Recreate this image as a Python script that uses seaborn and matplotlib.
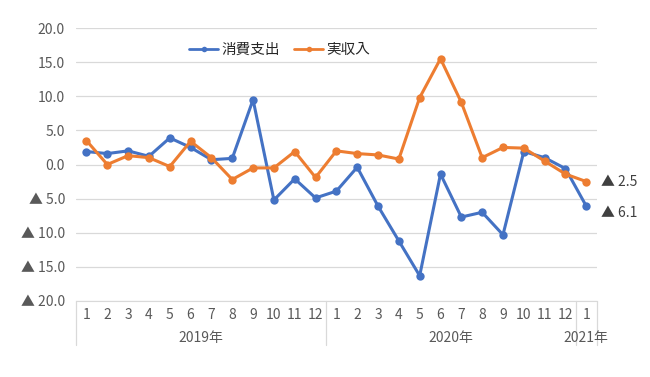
import numpy as np
import pandas as pd
import matplotlib
matplotlib.use("Agg")
import matplotlib.pyplot as plt
import matplotlib.transforms as mtransforms
import seaborn as sns

# monthly year-on-year change (%)
months = ["1", "2", "3", "4", "5", "6", "7", "8", "9", "10", "11", "12",
          "1", "2", "3", "4", "5", "6", "7", "8", "9", "10", "11", "12",
          "1"]
years = ["2019年", "2020年", "2021年"]
year_counts = [12, 12, 1]

spending = [1.9, 1.6, 2.0, 1.2, 3.9, 2.5, 0.7, 0.9, 9.5, -5.2, -2.1, -4.9,
            -3.9, -0.4, -6.1, -11.2, -16.3, -1.4, -7.7, -7.0, -10.3, 1.9, 1.0, -0.6,
            -6.1]
income = [3.5, 0.0, 1.3, 1.0, -0.3, 3.4, 1.0, -2.2, -0.5, -0.5, 1.9, -1.9,
          2.0, 1.6, 1.4, 0.8, 9.8, 15.5, 9.1, 1.0, 2.5, 2.4, 0.5, -1.4,
          -2.5]

series_names = ["消費支出", "実収入"]
colors = ["#4472C4", "#ED7D31"]

idx = np.arange(len(months))
df = pd.DataFrame({
    "x": np.concatenate([idx, idx]),
    "value": spending + income,
    "series": [series_names[0]] * len(idx) + [series_names[1]] * len(idx),
})

sns.set_style("white")
plt.rcParams["font.family"] = ["Noto Sans CJK JP", "DejaVu Sans"]

fig = plt.figure(figsize=(6.5, 3.77), dpi=100)
ax = fig.add_axes([0.117, 0.2016, 0.801, 0.7241])

sns.lineplot(data=df, x="x", y="value", hue="series", palette=colors,
             marker="o", markersize=6, markeredgewidth=0, linewidth=2.2,
             ax=ax, legend=False)

ax.set_xlim(-0.5, len(months) - 0.5)
ax.set_ylim(-20, 20)
yticks = np.arange(-20, 21, 5)
ax.set_yticks(yticks)
ax.set_yticklabels([f"{v:.1f}" if v >= 0 else f"▲ {-v:.1f}" for v in yticks],
                   fontsize=10, color="#595959")
ax.grid(axis="y", color="#D9D9D9", linewidth=0.9)
ax.set_axisbelow(True)
for s in ["left", "right", "top"]:
    ax.spines[s].set_visible(False)
ax.spines["bottom"].set_color("#D9D9D9")
ax.tick_params(axis="both", length=0)
ax.tick_params(axis="y", pad=8)

ax.set_xticks(idx)
ax.set_xticklabels(months, fontsize=10, color="#595959")
ax.tick_params(axis="x", pad=5)
ax.set_xlabel("")
ax.set_ylabel("")

# year group labels and separators under the axis
trans = mtransforms.blended_transform_factory(ax.transData, ax.transAxes)
start = 0
bounds = [-0.5]
for y, n in zip(years, year_counts):
    center = start + (n - 1) / 2
    ax.text(center, -0.135, y, transform=trans, ha="center", va="center",
            fontsize=10, color="#595959")
    start += n
    bounds.append(start - 0.5)
for b in bounds:
    ax.plot([b, b], [0, -0.161], transform=trans, color="#D9D9D9",
            linewidth=0.9, clip_on=False)

# end-point labels
ax.text(len(months) - 0.3, income[-1], "▲ " + f"{-income[-1]:.1f}",
        fontsize=10, color="#404040", va="center", ha="left")
ax.text(len(months) - 0.3, spending[-1] - 1.0, "▲ " + f"{-spending[-1]:.1f}",
        fontsize=10, color="#404040", va="center", ha="left")

handles = [plt.Line2D([], [], color=c, marker="o", markersize=4,
                      linewidth=2.0, markeredgewidth=0) for c in colors]
fig.legend(handles, series_names, loc="center", bbox_to_anchor=(0.43, 0.868),
           ncol=2, frameon=False, fontsize=10.5, handlelength=2.0,
           columnspacing=1.0, handletextpad=0.2)

fig.savefig("out.png", dpi=100)
